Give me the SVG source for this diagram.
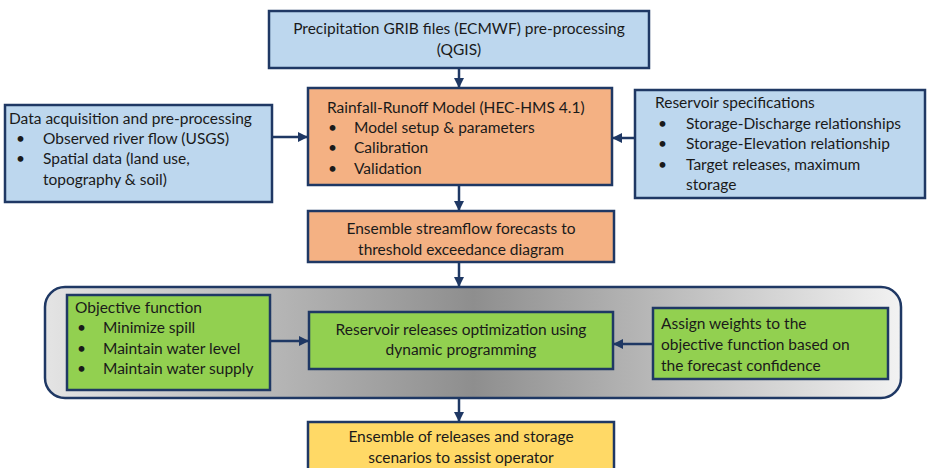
<svg xmlns="http://www.w3.org/2000/svg" width="927" height="468" viewBox="0 0 927 468">
<defs>
<linearGradient id="gray" x1="0" y1="0" x2="1" y2="0">
<stop offset="0" stop-color="#e4e4e4"/>
<stop offset="0.5" stop-color="#8e8e8e"/>
<stop offset="1" stop-color="#f2f2f2"/>
</linearGradient>
<marker id="arr" viewBox="0 0 10 10" refX="10" refY="5" markerWidth="4" markerHeight="4" orient="auto" markerUnits="strokeWidth">
<path d="M0,0 L10,5 L0,10 z" fill="#1f3864"/>
</marker>
<style>
.box{stroke:#1f3864;stroke-width:2.5}
.blue{fill:#bdd7ee}
.orange{fill:#f4b183}
.green{fill:#92d050}
.yellow{fill:#ffd966}
text{font-family:Lato,"Liberation Sans",sans-serif;font-size:15.5px;fill:#1a1a1a}
.c{text-anchor:middle}
.con{stroke:#1f3864;stroke-width:2.5;fill:none;marker-end:url(#arr)}
</style>
</defs>
<rect width="927" height="468" fill="#ffffff"/>
<g id="container">
<rect x="45" y="287" width="856" height="111" rx="20" ry="20" fill="url(#gray)" stroke="#1f3864" stroke-width="2.5"/>
</g>
<g id="grib">
<rect class="box blue" x="269" y="11" width="380" height="57"/>
<text class="c" x="459" y="34">Precipitation GRIB files (ECMWF) pre-processing</text>
<text class="c" x="459" y="55">(QGIS)</text>
</g>
<g id="data">
<rect class="box blue" x="5" y="105" width="267" height="97"/>
<text x="9" y="124">Data acquisition and pre-processing</text>
<text x="16" y="144">•</text><text x="43" y="144">Observed river flow (USGS)</text>
<text x="16" y="164">•</text><text x="43" y="164">Spatial data (land use,</text>
<text x="43" y="185">topography &amp; soil)</text>
</g>
<g id="hms">
<rect class="box orange" x="308" y="88" width="304" height="97"/>
<text x="327" y="113">Rainfall-Runoff Model (HEC-HMS 4.1)</text>
<text x="328" y="133">•</text><text x="354" y="133">Model setup &amp; parameters</text>
<text x="328" y="153">•</text><text x="354" y="153">Calibration</text>
<text x="328" y="174">•</text><text x="354" y="174">Validation</text>
</g>
<g id="reservoir">
<rect class="box blue" x="635" y="90" width="290" height="108"/>
<text x="655" y="108">Reservoir specifications</text>
<text x="658" y="129">•</text><text x="686" y="129">Storage-Discharge relationships</text>
<text x="658" y="149">•</text><text x="686" y="149">Storage-Elevation relationship</text>
<text x="658" y="170">•</text><text x="686" y="170">Target releases, maximum</text>
<text x="686" y="190">storage</text>
</g>
<g id="ensemble">
<rect class="box orange" x="308" y="211" width="306" height="51"/>
<text class="c" x="461" y="234">Ensemble streamflow forecasts to</text>
<text class="c" x="461" y="255">threshold exceedance diagram</text>
</g>
<g id="objective">
<rect class="box green" x="67" y="295" width="203" height="95"/>
<text x="75" y="313">Objective function</text>
<text x="77" y="333">•</text><text x="103" y="333">Minimize spill</text>
<text x="77" y="354">•</text><text x="103" y="354">Maintain water level</text>
<text x="77" y="374">•</text><text x="103" y="374">Maintain water supply</text>
</g>
<g id="optim">
<rect class="box green" x="309" y="312" width="304" height="57"/>
<text class="c" x="461" y="335">Reservoir releases optimization using</text>
<text class="c" x="461" y="355">dynamic programming</text>
</g>
<g id="weights">
<rect class="box green" x="653" y="308" width="235" height="71"/>
<text x="661" y="329">Assign weights to the</text>
<text x="661" y="350">objective function based on</text>
<text x="661" y="371">the forecast confidence</text>
</g>
<g id="scenarios">
<rect class="box yellow" x="308" y="422" width="306" height="60"/>
<text class="c" x="461" y="442">Ensemble of releases and storage</text>
<text class="c" x="461" y="463">scenarios to assist operator</text>
</g>
<g id="connectors">
<line class="con" x1="459" y1="68" x2="459" y2="88"/>
<line class="con" x1="272" y1="137" x2="308" y2="137"/>
<line class="con" x1="635" y1="138" x2="612" y2="138"/>
<line class="con" x1="459" y1="185" x2="459" y2="211"/>
<line class="con" x1="459" y1="262" x2="459" y2="287"/>
<line class="con" x1="270" y1="341" x2="309" y2="341"/>
<line class="con" x1="653" y1="344" x2="613" y2="344"/>
<line class="con" x1="459" y1="398" x2="459" y2="422"/>
</g>
</svg>
